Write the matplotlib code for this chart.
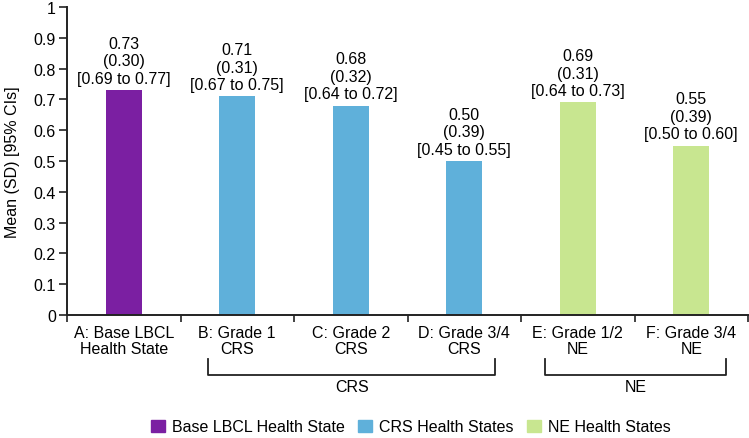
import matplotlib
matplotlib.use("Agg")
import matplotlib.pyplot as plt
from matplotlib.patches import Patch
import matplotlib.transforms as mtransforms

plt.rcParams['font.family'] = ['Liberation Sans', 'DejaVu Sans']

categories = ["A: Base LBCL\nHealth State", "B: Grade 1\nCRS", "C: Grade 2\nCRS",
              "D: Grade 3/4\nCRS", "E: Grade 1/2\nNE", "F: Grade 3/4\nNE"]
means = [0.73, 0.71, 0.68, 0.50, 0.69, 0.55]
sds = ["0.30", "0.31", "0.32", "0.39", "0.31", "0.39"]
ci_low = ["0.69", "0.67", "0.64", "0.45", "0.64", "0.50"]
ci_high = ["0.77", "0.75", "0.72", "0.55", "0.73", "0.60"]
groups = ["Base", "CRS", "CRS", "CRS", "NE", "NE"]
group_colors = {"Base": "#7B1FA2", "CRS": "#5FB0DA", "NE": "#C8E690"}
legend_labels = ["Base LBCL Health State", "CRS Health States", "NE Health States"]
yticks = [0, 0.1, 0.2, 0.3, 0.4, 0.5, 0.6, 0.7, 0.8, 0.9, 1]
ytick_labels = ["0", "0.1", "0.2", "0.3", "0.4", "0.5", "0.6", "0.7", "0.8", "0.9", "1"]

FS = 11.5
fig = plt.figure(figsize=(7.49, 4.39), dpi=100)
ax = fig.add_axes([67/749, 1-316/439, (748-67)/749, (316-8)/439])

x = list(range(len(categories)))
colors = [group_colors[g] for g in groups]
ax.bar(x, means, width=0.317, color=colors)

for xi, m, s, lo, hi in zip(x, means, sds, ci_low, ci_high):
    ax.annotate(f"{m:.2f}\n({s})\n[{lo} to {hi}]", (xi, m), xytext=(0, 3),
                textcoords="offset points", ha="center", va="bottom",
                fontsize=FS, linespacing=1.22)

ax.set_xlim(-0.5, 5.5)
ax.set_ylim(0, 1)
ax.set_yticks(yticks)
ax.set_yticklabels(ytick_labels, fontsize=FS)
ax.set_xticks(x)
ax.set_xticklabels(categories, fontsize=FS, linespacing=1.1)
ax.tick_params(axis='x', which='major', length=0, pad=7)
ax.set_xticks([i - 0.5 for i in range(len(categories) + 1)], minor=True)
ax.tick_params(axis='x', which='minor', length=5, width=1.2, color='#222222', direction='out')
ax.tick_params(axis='y', length=6, width=1.2, color='#222222', pad=2)
for sp in ['top', 'right']:
    ax.spines[sp].set_visible(False)
for sp in ['left', 'bottom']:
    ax.spines[sp].set_linewidth(1.4)
    ax.spines[sp].set_color('#222222')
ax.set_ylabel("Mean (SD) [95% CIs]", fontsize=FS, labelpad=10)

# group brackets (data x, figure-pixel y)
trans = mtransforms.blended_transform_factory(ax.transData, fig.transFigure)
def fy(py):
    return 1 - py / 439

brackets = [("CRS", 0.742, 3.27, 2.01), ("NE", 3.71, 5.31, 4.51)]
for label, x0, x1, xc in brackets:
    ax.plot([x0, x0, x1, x1], [fy(360), fy(376), fy(376), fy(360)], transform=trans,
            color='#222222', lw=1.3, clip_on=False)
    ax.text(xc, fy(388), label, transform=trans, ha='center', va='center', fontsize=FS)

handles = [Patch(color=group_colors[g]) for g in ["Base", "CRS", "NE"]]
fig.legend(handles, legend_labels, loc='center', bbox_to_anchor=(411/749, 1 - 428/439),
           ncol=3, frameon=False, fontsize=FS, handlelength=0.85, handleheight=0.85,
           handletextpad=0.45, columnspacing=0.85)

fig.savefig("out.png", dpi=100)
